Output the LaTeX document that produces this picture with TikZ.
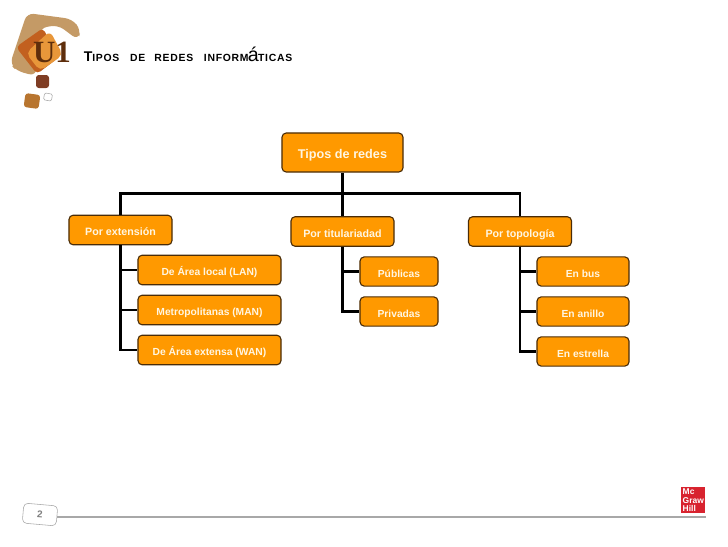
\documentclass[tikz,border=0pt]{standalone}
\usepackage{fontspec}
\setmainfont{Liberation Sans}
\newfontfamily\logofont{Liberation Serif}
\definecolor{boxorange}{HTML}{FF9900}
\definecolor{boxedge}{HTML}{4A2C08}
\definecolor{boxtext}{HTML}{FFF6E2}
\definecolor{logotan}{HTML}{C49A66}
\definecolor{logorust}{HTML}{C2601F}
\definecolor{logoamber}{HTML}{E8973A}
\definecolor{logodark}{HTML}{5E2E0C}
\definecolor{logomaroon}{HTML}{7F3D24}
\definecolor{logocopper}{HTML}{B8752F}
\definecolor{footgray}{HTML}{A8A8A8}
\definecolor{mcgred}{HTML}{D8232F}
\begin{document}
\begin{tikzpicture}[x=0.025cm, y=-0.025cm,
    box/.style={draw=boxedge, line width=0.8pt, fill=boxorange, rounded corners=3pt, text=boxtext, inner sep=0pt, text height=1.5ex, text depth=0pt, font=\bfseries\fontsize{7.3}{9}\selectfont},
    rootbox/.style={box, minimum width=3.025cm, minimum height=0.975cm, font=\bfseries\fontsize{9}{11}\selectfont},
    midbox/.style={box, minimum width=2.575cm, minimum height=0.74cm, font=\bfseries\fontsize{7.6}{9}\selectfont},
    areabox/.style={box, minimum width=3.575cm, minimum height=0.74cm},
    pubbox/.style={box, minimum width=1.95cm, minimum height=0.73cm},
    topobox/.style={box, minimum width=2.3cm, minimum height=0.73cm},
    trunk/.style={draw=black, line width=2pt},
    branch/.style={draw=black, line width=1.6pt}]
  \useasboundingbox (0, 0) rectangle (728, 546);

  % logo
  \fill[logotan, rounded corners=5pt] (10, 64) -- (27, 13) -- (72, 19) -- (81, 30) -- (78, 40) -- (58, 25) -- (40, 28) -- (36, 76) -- (17, 71) -- cycle;
  \fill[logorust, rounded corners=3pt] (16, 47) -- (43, 28) -- (58, 58) -- (37, 74) -- cycle;
  \fill[logoamber, rounded corners=4pt] (26, 53) -- (50, 31) -- (63, 55) -- (40, 71) -- cycle;
  \node[text=logodark, inner sep=0pt, font=\logofont\bfseries\fontsize{22}{22}\selectfont] (unit) at (52, 52.5) {U1};
  \fill[logomaroon, rounded corners=2pt] (36, 75) rectangle (49, 88);
  \fill[logocopper, rounded corners=2pt, rotate around={-8:(32, 101)}] (24.5, 94) rectangle (39.5, 108);
  \draw[footgray, rounded corners=1pt, rotate around={-10:(48, 97)}] (44, 93.5) rectangle (52, 100.5);

  % title
  \node[anchor=west, inner sep=0pt, font=\bfseries\fontsize{7.4}{9}\selectfont] (title) at (83.5, 54.5)
    {\addfontfeature{LetterSpace=7}{\fontsize{10}{9}\selectfont T}IPOS\hspace{5pt} DE\hspace{4pt} REDES\hspace{5pt} INFORM{\mdseries\fontsize{14}{9}\selectfont\addfontfeature{LetterSpace=0}\kern-0.5pt á\kern-0.5pt}TICAS};

  % raiz
  \node[rootbox] (tipos) at (342.5, 152.5) {Tipos de redes};

  % por extension
  \node[midbox] (extension) at (120.5, 230) {Por extensión};
  \node[areabox] (lan) at (209.5, 270) {De Área local (LAN)};
  \node[areabox] (man) at (209.5, 310) {Metropolitanas (MAN)};
  \node[areabox] (wan) at (209.5, 350) {De Área extensa (WAN)};

  % por titularidad
  \node[midbox] (titular) at (342.5, 231.5) {Por titulariadad};
  \node[pubbox] (publicas) at (399, 271.5) {Públicas};
  \node[pubbox] (privadas) at (399, 311.5) {Privadas};

  % por topologia
  \node[midbox] (topologia) at (520, 231.5) {Por topología};
  \node[topobox] (bus) at (583, 271.5) {En bus};
  \node[topobox] (anillo) at (583, 311.5) {En anillo};
  \node[topobox] (estrella) at (583, 351.5) {En estrella};

  % lineas
  \coordinate (bar) at (342.5, 193.5);
  \draw[trunk] (tipos.south) -- (bar) -- (titular.north);
  \draw[branch] (bar) -| (extension.north);
  \draw[branch] (bar) -| (topologia.north);
  \draw[branch] (extension.south) |- (lan.west);
  \draw[branch] (extension.south) |- (man.west);
  \draw[branch] (extension.south) |- (wan.west);
  \draw[branch] (titular.south) |- (publicas.west);
  \draw[branch] (titular.south) |- (privadas.west);
  \draw[branch] (topologia.south) |- (bus.west);
  \draw[branch] (topologia.south) |- (anillo.west);
  \draw[branch] (topologia.south) |- (estrella.west);

  % pie
  \node[draw=footgray, fill=white, rounded corners=3pt, rotate=-5, minimum width=0.85cm, minimum height=0.5cm, inner sep=0pt, text=gray, font=\bfseries\fontsize{7}{8}\selectfont] (page) at (40, 514.5) {2};
  \coordinate (footend) at (706, 517);
  \draw[footgray, line width=0.9pt] (page.east |- footend) -- (footend);

  % McGraw-Hill
  \node[fill=mcgred, text=white, anchor=north west, minimum width=0.6cm, minimum height=0.65cm, inner sep=0pt, align=left, font=\bfseries\fontsize{6}{5.9}\selectfont] (mcgraw) at (681, 487) {Mc\\Graw\\Hill};
\end{tikzpicture}
\end{document}
